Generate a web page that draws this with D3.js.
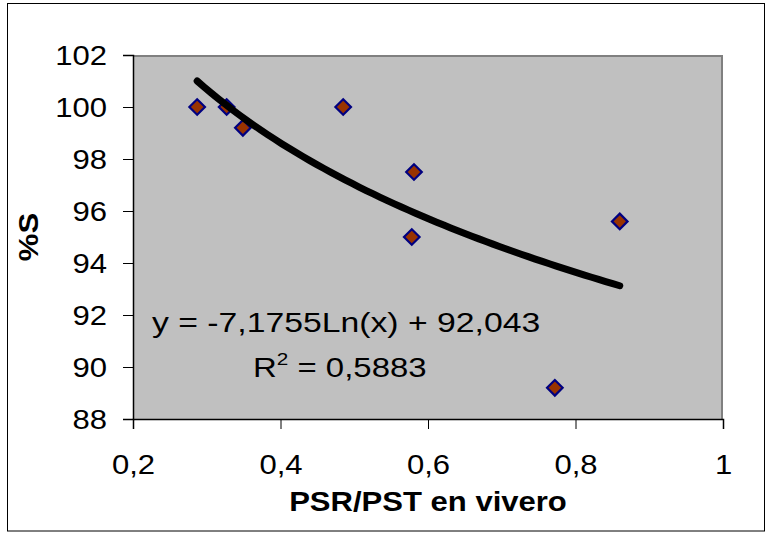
<!DOCTYPE html>
<html>
<head>
<meta charset="utf-8">
<script src="https://cdn.jsdelivr.net/npm/d3@7"></script>
<style>
  html, body { margin: 0; padding: 0; background: #fff; }
  svg { display: block; }
  text { font-family: "Liberation Sans", Arial, sans-serif; fill: #000; }
</style>
</head>
<body>
<svg id="chart" width="766" height="533"></svg>
<script>
// ---- data ----
const psrPst = [0.287, 0.327, 0.349, 0.485, 0.578, 0.581, 0.772, 0.860];
const pctS   = [100.0, 100.0, 99.2, 100.0, 95.0, 97.5, 89.2, 95.6];
const xTicks = [0.2, 0.4, 0.6, 0.8, 1];
const yTicks = [88, 90, 92, 94, 96, 98, 100, 102];
const trendCoef = [-7.1755, 92.043];   // y = a*ln(x) + b
const eqLabel = "y = -7,1755Ln(x) + 92,043";
const r2Value = "0,5883";
const xTitle = "PSR/PST en vivero";
const yTitle = "%S";

// ---- layout ----
const W = 766, H = 533;
const plot = { left: 133, right: 723, top: 55, bottom: 419 };
const sx = 1.15; // horizontal glyph stretch of the original rendering

const svg = d3.select("#chart");
svg.append("rect").attr("x", 0).attr("y", 0).attr("width", W).attr("height", H).attr("fill", "#fff");
svg.append("rect").attr("x", 7.5).attr("y", 3.5).attr("width", 757).attr("height", 527.5)
  .attr("fill", "none").attr("stroke", "#000").attr("stroke-width", 1);

const x = d3.scaleLinear().domain([0.2, 1]).range([plot.left, plot.right]);
const y = d3.scaleLinear().domain([88, 102]).range([plot.bottom, plot.top]);

// plot area
svg.append("rect").attr("x", plot.left).attr("y", plot.top)
  .attr("width", plot.right - plot.left).attr("height", plot.bottom - plot.top)
  .attr("fill", "#c0c0c0");
svg.append("path")
  .attr("d", `M${plot.left},${plot.top + 1}H${plot.right - 1}V${plot.bottom}`)
  .attr("fill", "none").attr("stroke", "#808080").attr("stroke-width", 2);

const fmt = d => String(d).replace(".", ",");

// y axis
const yAxis = svg.append("g").attr("transform", `translate(${plot.left},0)`)
  .call(d3.axisLeft(y).tickValues(yTicks).tickSize(10).tickFormat(fmt));
yAxis.select(".domain").attr("stroke", "#000").attr("stroke-width", 1.5);
yAxis.selectAll(".tick line").attr("stroke", "#000");
yAxis.selectAll(".tick text")
  .attr("font-size", 27).attr("font-family", "Liberation Sans, Arial, sans-serif")
  .attr("fill", "#000").attr("x", 0).attr("dy", null).attr("dominant-baseline", "central")
  .attr("text-anchor", "end")
  .attr("transform", `translate(-26,0) scale(${sx},1)`);

// x axis
const xAxis = svg.append("g").attr("transform", `translate(0,${plot.bottom})`)
  .call(d3.axisBottom(x).tickValues(xTicks).tickSize(10).tickFormat(fmt));
xAxis.select(".domain").attr("stroke", "#000").attr("stroke-width", 1.5);
xAxis.selectAll(".tick line").attr("stroke", "#000");
xAxis.selectAll(".tick text")
  .attr("font-size", 27).attr("font-family", "Liberation Sans, Arial, sans-serif")
  .attr("fill", "#000").attr("y", 0).attr("dy", null)
  .attr("transform", `translate(0,55) scale(${sx},1)`);

// markers
const pts = psrPst.map((v, i) => ({ x: v, y: pctS[i] }));
const r = 7.8;
svg.append("g").selectAll("path").data(pts).join("path")
  .attr("d", d => `M${x(d.x)},${y(d.y) - r}L${x(d.x) + r},${y(d.y)}L${x(d.x)},${y(d.y) + r}L${x(d.x) - r},${y(d.y)}Z`)
  .attr("fill", "#993300").attr("stroke", "#000080").attr("stroke-width", 2.2);

// trendline (logarithmic fit as given by coefficients)
const xmin = d3.min(psrPst), xmax = d3.max(psrPst);
const trendX = d3.range(0, 61).map(i => xmin + (xmax - xmin) * i / 60);
const line = d3.line().x(d => x(d)).y(d => y(trendCoef[0] * Math.log(d) + trendCoef[1])).curve(d3.curveLinear);
svg.append("path").datum(trendX).attr("d", line)
  .attr("fill", "none").attr("stroke", "#000").attr("stroke-width", 7)
  .attr("stroke-linecap", "round").attr("stroke-linejoin", "round");

// equation text
svg.append("text").attr("transform", `translate(152,332) scale(1.25,1)`)
  .attr("font-size", 27).text(eqLabel);
const r2 = svg.append("text").attr("transform", `translate(253,377) scale(1.22,1)`)
  .attr("font-size", 27);
r2.append("tspan").text("R");
r2.append("tspan").attr("font-size", 17).attr("dy", -12).text("2");
r2.append("tspan").attr("dy", 12).text(" = " + r2Value);

// axis titles
svg.append("text").attr("transform", `translate(428,511) scale(${sx},1)`)
  .attr("text-anchor", "middle").attr("font-size", 27).attr("font-weight", "bold").text(xTitle);
svg.append("text").attr("transform", `translate(38,237) rotate(-90) scale(${sx},1)`)
  .attr("text-anchor", "middle").attr("font-size", 27).attr("font-weight", "bold").text(yTitle);
</script>
</body>
</html>
